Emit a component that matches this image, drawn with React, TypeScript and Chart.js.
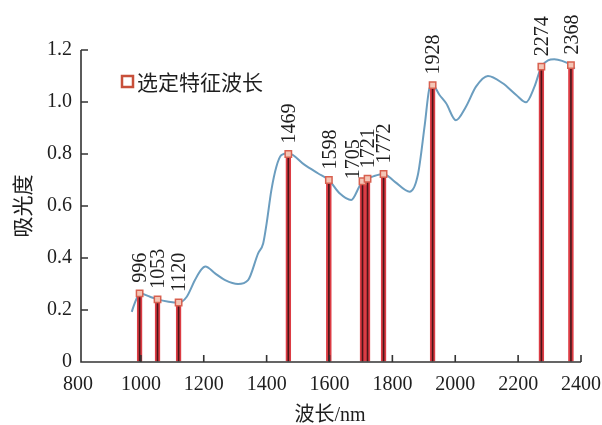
import React, { useEffect, useRef } from 'react';
import { Chart, registerables } from 'chart.js';

Chart.register(...registerables);

// Spectrum curve (wavelength nm, absorbance)
const curveWavelengths = [
  971, 977, 988, 996, 1029, 1053, 1088, 1120, 1146, 1172, 1192, 1205, 1236, 1268, 1309, 1341,
  1373, 1389, 1400, 1415, 1431, 1447, 1469, 1521, 1563, 1598, 1632, 1669, 1695, 1705, 1721,
  1741, 1772, 1808, 1855, 1881, 1903, 1918, 1928, 1950, 1971, 2002, 2034, 2066, 2104, 2151,
  2194, 2225, 2252, 2274, 2295, 2315, 2340, 2368, 2380,
];
const curveAbsorbance = [
  0.193, 0.215, 0.248, 0.264, 0.251, 0.241, 0.232, 0.228, 0.251, 0.315, 0.355, 0.367, 0.341,
  0.315, 0.3, 0.315, 0.418, 0.456, 0.533, 0.66, 0.751, 0.796, 0.803, 0.758, 0.726, 0.7, 0.649,
  0.623, 0.675, 0.695, 0.705, 0.715, 0.723, 0.693, 0.655, 0.719, 0.912, 1.053, 1.065, 1.027,
  0.995, 0.93, 0.982, 1.059, 1.1, 1.072, 1.027, 0.999, 1.059, 1.136, 1.16, 1.164, 1.158, 1.142,
  1.128,
];

// Selected characteristic wavelengths
const selectedWavelengths = [996, 1053, 1120, 1469, 1598, 1705, 1721, 1772, 1928, 2274, 2368];
const selectedAbsorbance = [0.264, 0.241, 0.229, 0.8, 0.7, 0.695, 0.705, 0.723, 1.065, 1.136, 1.142];

const xTickValues = [800, 1000, 1200, 1400, 1600, 1800, 2000, 2200, 2400];
const yTickValues = [0, 0.2, 0.4, 0.6, 0.8, 1.0, 1.2];

const legendLabel = '选定特征波长';
const xTitle = '波长/nm';
const yTitle = '吸光度';

const SERIF = '"Liberation Serif", "Noto Sans CJK SC", serif';
const CJK = '"Noto Sans CJK SC", "Liberation Serif", serif';
const TEXT_COLOR = '#1e1e1e';
const AXIS_COLOR = '#333333';
const AXIS_X = 81; // pixel where the y axis line is drawn (slightly right of 800)

// label nudges (pixel offsets) for crowded labels, keyed by wavelength
const labelNudge: Record<number, { dx: number; gap: number }> = {
  1705: { dx: -10, gap: 2 },
};

const overlayPlugin = {
  id: 'overlay',
  afterDatasetsDraw(chart: any) {
    const { ctx, scales } = chart;
    const xs = scales.x;
    const ys = scales.y;
    ctx.save();
    ctx.fillStyle = TEXT_COLOR;
    ctx.font = `20px ${SERIF}`;
    selectedWavelengths.forEach((wl, i) => {
      const px = xs.getPixelForValue(wl);
      const py = ys.getPixelForValue(selectedAbsorbance[i]);
      const n = labelNudge[wl] || { dx: 0, gap: 10.5 };
      ctx.save();
      ctx.translate(px + n.dx, py - n.gap);
      ctx.rotate(-Math.PI / 2);
      ctx.textAlign = 'left';
      ctx.textBaseline = 'alphabetic';
      ctx.fillText(String(wl), 0, 6.8);
      ctx.restore();
    });
    ctx.restore();
  },
  afterDraw(chart: any) {
    const { ctx, scales, chartArea } = chart;
    const xs = scales.x;
    const ys = scales.y;
    ctx.save();
    // axes lines
    ctx.strokeStyle = AXIS_COLOR;
    ctx.lineWidth = 1.6;
    ctx.beginPath();
    ctx.moveTo(AXIS_X, chartArea.top);
    ctx.lineTo(AXIS_X, chartArea.bottom);
    ctx.lineTo(chartArea.right, chartArea.bottom);
    ctx.stroke();
    // inward ticks
    ctx.beginPath();
    xTickValues.forEach((v) => {
      if (v === xTickValues[0]) return;
      const px = xs.getPixelForValue(v);
      ctx.moveTo(px, chartArea.bottom);
      ctx.lineTo(px, chartArea.bottom - 7);
    });
    yTickValues.forEach((v) => {
      if (v === 0) return;
      const py = ys.getPixelForValue(v);
      ctx.moveTo(AXIS_X, py);
      ctx.lineTo(AXIS_X + 7, py);
    });
    ctx.stroke();

    // legend
    ctx.fillStyle = '#ffffff';
    ctx.fillRect(122, 76, 11, 11);
    ctx.strokeStyle = '#c8503a';
    ctx.lineWidth = 2.5;
    ctx.strokeRect(122, 76, 11, 11);
    ctx.fillStyle = TEXT_COLOR;
    ctx.font = `21px ${CJK}`;
    ctx.textAlign = 'left';
    ctx.textBaseline = 'middle';
    ctx.fillText(legendLabel, 137, 82);

    // axis titles
    ctx.font = `20px ${SERIF}`;
    ctx.textAlign = 'center';
    ctx.textBaseline = 'middle';
    ctx.fillText(xTitle, 330, 416);

    ctx.save();
    ctx.translate(22, (chartArea.top + chartArea.bottom) / 2);
    ctx.rotate(-Math.PI / 2);
    ctx.font = `21px ${CJK}`;
    ctx.fillText(yTitle, 0, 0);
    ctx.restore();

    ctx.restore();
  },
};

export default function App() {
  const canvasRef = useRef<HTMLCanvasElement | null>(null);

  useEffect(() => {
    if (!canvasRef.current) return;
    const curve = curveWavelengths.map((x, i) => ({ x, y: curveAbsorbance[i] }));
    const bars = selectedWavelengths.map((x, i) => ({ x, y: selectedAbsorbance[i] }));

    const chart = new Chart(canvasRef.current, {
      type: 'line',
      data: {
        datasets: [
          {
            type: 'line',
            label: 'spectrum',
            data: curve,
            borderColor: '#6b9dbf',
            borderWidth: 2,
            pointRadius: 0,
            fill: false,
            cubicInterpolationMode: 'monotone',
            order: 3,
          } as any,
          {
            type: 'bar',
            label: 'bars',
            data: bars,
            backgroundColor: '#4a1518',
            borderColor: '#dc3c44',
            borderWidth: 2,
            barThickness: 5,
            order: 2,
          } as any,
          {
            type: 'line',
            label: legendLabel,
            data: bars,
            showLine: false,
            pointStyle: 'rect',
            pointRadius: 4.5,
            pointBackgroundColor: '#f4c6b6',
            pointBorderColor: '#d8604f',
            pointBorderWidth: 1.5,
            order: 1,
          } as any,
        ],
      },
      options: {
        responsive: false,
        animation: false,
        layout: { padding: { left: 0, right: 21, top: 50, bottom: 0 } },
        plugins: {
          legend: { display: false },
          tooltip: { enabled: false },
        },
        scales: {
          x: {
            type: 'linear',
            min: 800,
            max: 2400,
            offset: false,
            afterBuildTicks: (s: any) => {
              s.ticks = xTickValues.map((v) => ({ value: v }));
            },
            afterFit: (s: any) => {
              s.height = 63;
              s.paddingLeft = 0;
              s.paddingRight = 0;
            },
            ticks: {
              color: TEXT_COLOR,
              font: { family: SERIF, size: 20 },
              padding: 11,
              maxRotation: 0,
              autoSkip: false,
              callback: (v: any) => String(v),
            },
            grid: { drawOnChartArea: false, drawTicks: false, color: 'rgba(0,0,0,0)' },
            border: { display: false },
          },
          y: {
            type: 'linear',
            min: 0,
            max: 1.2,
            afterBuildTicks: (s: any) => {
              s.ticks = yTickValues.map((v) => ({ value: v }));
            },
            afterFit: (s: any) => {
              s.width = 78;
              s.paddingTop = 0;
              s.paddingBottom = 0;
            },
            ticks: {
              color: TEXT_COLOR,
              font: { family: SERIF, size: 20 },
              padding: 6,
              autoSkip: false,
              callback: (v: any) => (Number(v) === 0 ? '0' : Number(v).toFixed(1)),
            },
            grid: { drawOnChartArea: false, drawTicks: false, color: 'rgba(0,0,0,0)' },
            border: { display: false },
          },
        },
      },
      plugins: [overlayPlugin],
    });

    return () => chart.destroy();
  }, []);

  return (
    <div style={{ position: 'absolute', left: 0, top: 0, width: 602, height: 425, background: '#ffffff' }}>
      <canvas ref={canvasRef} width={602} height={425} />
    </div>
  );
}
